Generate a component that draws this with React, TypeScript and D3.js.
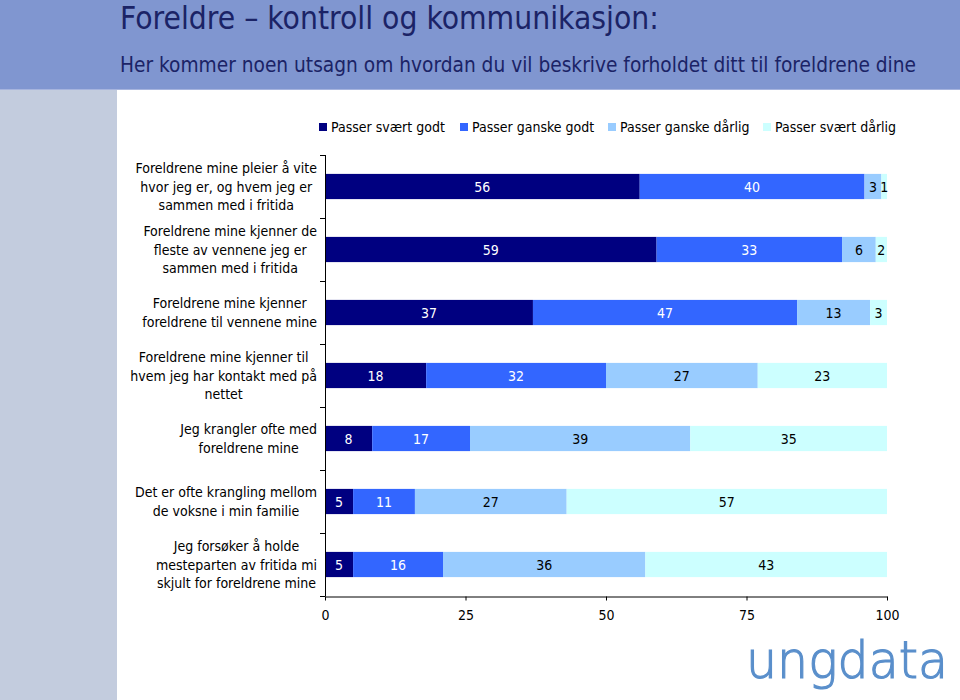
import React, { useEffect, useRef } from "react";
import * as d3 from "d3";

const categories: string[][] = [
  ["Foreldrene mine pleier å vite", "hvor jeg er, og hvem jeg er", "sammen med i fritida"],
  ["Foreldrene mine kjenner de", "fleste av vennene jeg er", "sammen med i fritida"],
  ["Foreldrene mine kjenner", "foreldrene til vennene mine"],
  ["Foreldrene mine kjenner til", "hvem jeg har kontakt med på", "nettet"],
  ["Jeg krangler ofte med", "foreldrene mine"],
  ["Det er ofte krangling mellom", "de voksne i min familie"],
  ["Jeg forsøker å holde", "mesteparten av fritida mi", "skjult for foreldrene mine"],
];

const seriesNames = ["Passer svært godt", "Passer ganske godt", "Passer ganske dårlig", "Passer svært dårlig"];
const sværtGodt = [56, 59, 37, 18, 8.4, 5, 5];
const ganskeGodt = [40, 33, 47, 32, 17.4, 11, 16];
const ganskeDårlig = [3, 6, 13, 27, 39.2, 27, 36];
const sværtDårlig = [1, 2, 3, 23, 35, 57, 43];
const xTicks = [0, 25, 50, 75, 100];

const title = "Foreldre – kontroll og kommunikasjon:";
const subtitle = "Her kommer noen utsagn om hvordan du vil beskrive forholdet ditt til foreldrene dine";
const logoText = "ungdata";

const colors = ["#000080", "#3366FF", "#99CCFF", "#CCFFFF"];
const labelColors = ["#ffffff", "#ffffff", "#000000", "#000000"];
const FONT = "'DejaVu Sans Condensed', 'DejaVu Sans', sans-serif";

export default function App() {
  const ref = useRef<SVGSVGElement | null>(null);

  useEffect(() => {
    const svg = d3.select(ref.current);
    svg.selectAll("*").remove();

    const W = 960, H = 700;
    // background panels
    svg.append("rect").attr("x", 0).attr("y", 0).attr("width", W).attr("height", H).attr("fill", "#ffffff");
    svg.append("rect").attr("x", 0).attr("y", 89).attr("width", 117).attr("height", H - 89).attr("fill", "#C3CCDE");
    svg.append("rect").attr("x", 0).attr("y", 0).attr("width", W).attr("height", 89).attr("fill", "#8096D0");
    svg.append("line").attr("x1", 0).attr("x2", W).attr("y1", 89.5).attr("y2", 89.5).attr("stroke", "#A6B4DE").attr("stroke-width", 1);

    svg.append("text").attr("x", 120).attr("y", 29).attr("font-family", FONT).attr("font-size", 31.5)
      .attr("fill", "#1B2366").text(title);
    svg.append("text").attr("x", 120).attr("y", 72).attr("font-family", FONT).attr("font-size", 20.7)
      .attr("fill", "#1B2366").text(subtitle);

    const rows = categories.map((c, i) => ({
      idx: i,
      [seriesNames[0]]: sværtGodt[i],
      [seriesNames[1]]: ganskeGodt[i],
      [seriesNames[2]]: ganskeDårlig[i],
      [seriesNames[3]]: sværtDårlig[i],
    }));
    const stacked = d3.stack<any>().keys(seriesNames)(rows);

    const x = d3.scaleLinear().domain([0, 100]).range([325, 887]);
    const y = d3.scaleBand<number>().domain(categories.map((_, i) => i)).range([155, 596])
      .paddingInner(0.6).paddingOuter(0.3);
    const step = y.step();

    // bars
    const g = svg.append("g");
    stacked.forEach((layer, si) => {
      g.append("g").selectAll("rect").data(layer).join("rect")
        .attr("x", (d: any) => x(d[0]))
        .attr("y", (d: any) => y(d.data.idx)!)
        .attr("width", (d: any) => x(d[1]) - x(d[0]))
        .attr("height", y.bandwidth())
        .attr("fill", colors[si]);
    });
    stacked.forEach((layer, si) => {
      g.append("g").selectAll("text").data(layer).join("text")
        .attr("x", (d: any) => (x(d[0]) + x(d[1])) / 2)
        .attr("y", (d: any) => y(d.data.idx)! + y.bandwidth() / 2 + 5)
        .attr("text-anchor", "middle")
        .attr("font-family", FONT).attr("font-size", 14)
        .attr("fill", labelColors[si])
        .text((d: any) => String(Math.round(d[1] - d[0])));
    });

    // y axis
    const [r0, r1] = y.range();
    const ya = svg.append("g").attr("stroke", "#000").attr("stroke-width", 1);
    ya.append("line").attr("x1", 325.5).attr("x2", 325.5).attr("y1", r0).attr("y2", r1);
    d3.range(categories.length + 1).forEach((i) => {
      ya.append("line").attr("x1", 320).attr("x2", 325.5)
        .attr("y1", Math.round(r0 + i * step) + 0.5).attr("y2", Math.round(r0 + i * step) + 0.5);
    });

    // x axis
    const xa = svg.append("g").attr("transform", `translate(0,${r1 + 0.5})`)
      .call(d3.axisBottom(x).tickValues(xTicks).tickSize(4).tickSizeOuter(0).tickPadding(10));
    xa.select(".domain").attr("stroke", "#000");
    xa.selectAll(".tick line").attr("stroke", "#000");
    xa.selectAll(".tick text").attr("font-family", FONT).attr("font-size", 14).attr("fill", "#000");

    // category labels
    categories.forEach((lines, i) => {
      const cy = y(i)! + y.bandwidth() / 2;
      const lh = 18.5;
      const grp = svg.append("g");
      const texts = lines.map((ln, k) =>
        grp.append("text")
          .attr("y", cy + (k - (lines.length - 1) / 2) * lh + 5)
          .attr("font-family", FONT).attr("font-size", 14).attr("fill", "#000")
          .attr("text-anchor", "middle")
          .text(ln)
      );
      const widths = texts.map((t) => (t.node() as SVGTextElement).getComputedTextLength());
      const maxW = d3.max(widths) || 0;
      texts.forEach((t) => t.attr("x", 317 - maxW / 2));
    });

    // legend
    const legX = [319, 460, 608, 763];
    seriesNames.forEach((s, i) => {
      svg.append("rect").attr("x", legX[i]).attr("y", 123).attr("width", 8).attr("height", 8).attr("fill", colors[i]);
      svg.append("text").attr("x", legX[i] + 12).attr("y", 132).attr("font-family", FONT).attr("font-size", 14)
        .attr("fill", "#000").text(s);
    });

    // logo
    svg.append("text").attr("x", 746).attr("y", 678).attr("font-family", "'DejaVu Sans', sans-serif")
      .attr("font-weight", 200).attr("font-size", 52).attr("fill", "#5A8FCB")
      .attr("stroke", "#5A8FCB").attr("stroke-width", 1.2)
      .attr("textLength", 202).attr("lengthAdjust", "spacingAndGlyphs").text(logoText);
  }, []);

  return (
    <svg ref={ref} width={960} height={700} style={{ position: "absolute", left: 0, top: 0 }} />
  );
}
